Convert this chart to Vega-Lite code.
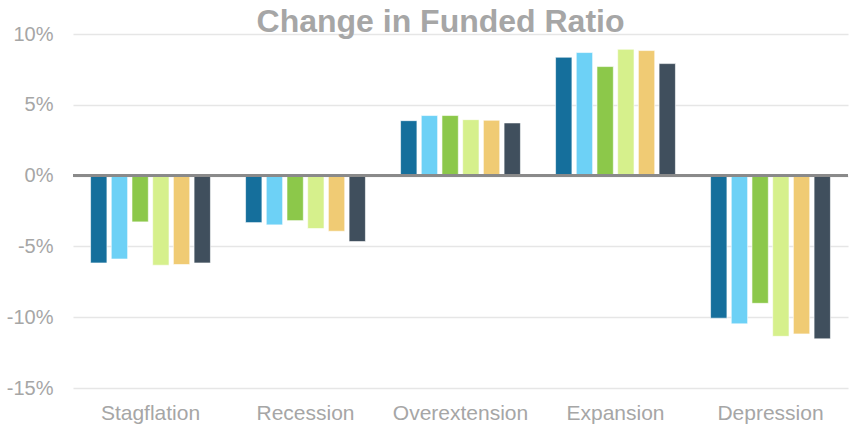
{
  "$schema": "https://vega.github.io/schema/vega-lite/v6.json",
  "width": 775,
  "height": 354,
  "autosize": {"type": "none"},
  "padding": {"left": 73, "top": 34, "right": 1, "bottom": 36},
  "background": "white",
  "title": {
    "text": "Change in Funded Ratio",
    "font": "Liberation Sans",
    "fontSize": 32,
    "fontWeight": "bold",
    "color": "#a6a6a6",
    "anchor": "middle",
    "frame": "group",
    "baseline": "alphabetic",
    "offset": -40,
    "dx": -20
  },
  "config": {
    "view": {"stroke": null},
    "axis": {"labelFont": "Liberation Sans", "labelColor": "#a6a6a6", "labelFontSize": 20}
  },
  "data": {
    "values": [
      {"scenario": "Stagflation", "series": "Series 1", "value": -6.17},
      {"scenario": "Stagflation", "series": "Series 2", "value": -5.89},
      {"scenario": "Stagflation", "series": "Series 3", "value": -3.27},
      {"scenario": "Stagflation", "series": "Series 4", "value": -6.33},
      {"scenario": "Stagflation", "series": "Series 5", "value": -6.28},
      {"scenario": "Stagflation", "series": "Series 6", "value": -6.17},
      {"scenario": "Recession", "series": "Series 1", "value": -3.32},
      {"scenario": "Recession", "series": "Series 2", "value": -3.48},
      {"scenario": "Recession", "series": "Series 3", "value": -3.18},
      {"scenario": "Recession", "series": "Series 4", "value": -3.74},
      {"scenario": "Recession", "series": "Series 5", "value": -3.93},
      {"scenario": "Recession", "series": "Series 6", "value": -4.66},
      {"scenario": "Overextension", "series": "Series 1", "value": 3.88},
      {"scenario": "Overextension", "series": "Series 2", "value": 4.24},
      {"scenario": "Overextension", "series": "Series 3", "value": 4.24},
      {"scenario": "Overextension", "series": "Series 4", "value": 3.95},
      {"scenario": "Overextension", "series": "Series 5", "value": 3.91},
      {"scenario": "Overextension", "series": "Series 6", "value": 3.72},
      {"scenario": "Expansion", "series": "Series 1", "value": 8.36},
      {"scenario": "Expansion", "series": "Series 2", "value": 8.69},
      {"scenario": "Expansion", "series": "Series 3", "value": 7.70},
      {"scenario": "Expansion", "series": "Series 4", "value": 8.92},
      {"scenario": "Expansion", "series": "Series 5", "value": 8.83},
      {"scenario": "Expansion", "series": "Series 6", "value": 7.91},
      {"scenario": "Depression", "series": "Series 1", "value": -10.07},
      {"scenario": "Depression", "series": "Series 2", "value": -10.47},
      {"scenario": "Depression", "series": "Series 3", "value": -9.02},
      {"scenario": "Depression", "series": "Series 4", "value": -11.35},
      {"scenario": "Depression", "series": "Series 5", "value": -11.18},
      {"scenario": "Depression", "series": "Series 6", "value": -11.53}
    ]
  },
  "layer": [
    {
      "mark": {"type": "bar", "stroke": "white", "strokeWidth": 0.6},
      "encoding": {
        "x": {
          "field": "scenario",
          "type": "nominal",
          "sort": null,
          "scale": {"paddingInner": 0.2, "paddingOuter": 0.1},
          "axis": {"title": null, "labelAngle": 0, "ticks": false, "domain": false, "labelPadding": 14, "labelFontSize": 21}
        },
        "xOffset": {
          "field": "series",
          "type": "nominal",
          "scale": {"paddingInner": 0.21, "paddingOuter": 0.1}
        },
        "y": {
          "field": "value",
          "type": "quantitative",
          "scale": {"domain": [-15, 10], "nice": false},
          "axis": {
            "title": null,
            "values": [-15, -10, -5, 0, 5, 10],
            "labelExpr": "datum.value + '%'",
            "ticks": false,
            "domain": false,
            "labelPadding": 20,
            "gridColor": "#e6e6e6",
            "gridWidth": 1.5
          }
        },
        "color": {
          "field": "series",
          "type": "nominal",
          "legend": null,
          "scale": {"range": ["#156f9c", "#6dd1f6", "#8cc84a", "#d6f08c", "#f0cb74", "#404f5d"]}
        }
      }
    },
    {
      "mark": {"type": "rule", "color": "#8a8a8a", "strokeWidth": 2},
      "encoding": {"y": {"datum": 0, "type": "quantitative"}}
    }
  ]
}
